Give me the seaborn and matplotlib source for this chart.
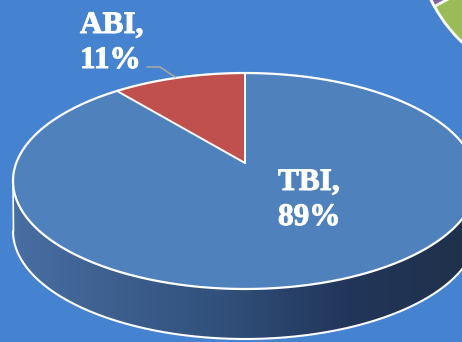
import numpy as np
import matplotlib
matplotlib.use("Agg")
import matplotlib.pyplot as plt
from matplotlib.patches import Polygon, Circle, Wedge
from matplotlib.colors import LinearSegmentedColormap
import matplotlib.patheffects as pe
import seaborn as sns

# ---- data ----
categories = ["ABI", "TBI"]          # counter-clockwise order starting at 12 o'clock
shares = [11, 89]                    # percent
slice_colors = ["#c0504d", "#4f81bd"]

sns.set_theme(style="white")
plt.rcParams["font.family"] = ["Liberation Serif", "DejaVu Serif"]

BG = "#4583d0"
W, H = 462, 342
fig = plt.figure(figsize=(W / 100, H / 100), dpi=100, facecolor=BG)
ax = fig.add_axes([0, 0, 1, 1])
ax.set_xlim(0, W)
ax.set_ylim(H, 0)
ax.set_facecolor(BG)
ax.axis("off")

# geometry of the tilted 3D pie (screen pixels, y down)
cx, cy, a, b = 245.0, 181.0, 232.0, 108.0
ax0, ay0 = 245.0, 163.0          # projected pie centre
depth = 50.0


def ell(t, dy=0.0):
    t = np.asarray(t)
    return cx + a * np.cos(t), cy - b * np.sin(t) + dy


def edge_t(theta):
    """parametric angle of the rim point in visual direction theta from apex"""
    dx, dy = a * np.cos(theta), -b * np.sin(theta)
    ox, oy = ax0 - cx, ay0 - cy
    A = (dx / a) ** 2 + (dy / b) ** 2
    B = 2 * (ox * dx / a ** 2 + oy * dy / b ** 2)
    C = (ox / a) ** 2 + (oy / b) ** 2 - 1
    s = (-B + np.sqrt(B * B - 4 * A * C)) / (2 * A)
    x, y = ax0 + s * dx, ay0 + s * dy
    return np.arctan2(-(y - cy) / b, (x - cx) / a)


# neighbouring chart fragment (top-right corner)
ax.add_patch(Circle((560, -62), 143, facecolor="#9bbb59", edgecolor="white", lw=2, zorder=1))
ax.add_patch(Wedge((560, -62), 143, 151.4, 215, facecolor="#8064a2", edgecolor="white", lw=2, zorder=2))

# side (front half) with gradient
ts = np.linspace(np.pi, 2 * np.pi, 200)
xt, yt = ell(ts)
xb, yb = ell(ts[::-1], depth)
side = np.column_stack([np.r_[xt, xb], np.r_[yt, yb]])
side_poly = Polygon(side, closed=True, facecolor="none", edgecolor="none")
ax.add_patch(side_poly)
cmap = LinearSegmentedColormap.from_list(
    "side", [(0.0, "#486ea2"), (0.45, "#31507b"), (0.72, "#22365a"), (1.0, "#1f3049")])
grad = np.linspace(0, 1, 256).reshape(1, -1)
im = ax.imshow(grad, cmap=cmap, extent=[cx - a, cx + a, cy + depth + b + 2, cy - 2],
               aspect="auto", zorder=3, interpolation="bilinear")
im.set_clip_path(side_poly)
ax.plot(xb, yb, color="white", lw=1.5, zorder=4)
ax.plot([cx - a, cx - a + 0.5], [cy, cy + depth], color="white", lw=1.2, zorder=4)

# top face slices
start = np.pi / 2
bounds = [start]
for v in shares:
    bounds.append(bounds[-1] + 2 * np.pi * v / sum(shares))
for i, (cat, col) in enumerate(zip(categories, slice_colors)):
    t1, t2 = edge_t(bounds[i]), edge_t(bounds[i + 1])
    if t2 <= t1:
        t2 += 2 * np.pi
    tt = np.linspace(t1, t2, 300)
    px, py = ell(tt)
    poly = np.column_stack([np.r_[ax0, px, ax0], np.r_[ay0, py, ay0]])
    ax.add_patch(Polygon(poly, closed=True, facecolor=col, edgecolor="none", zorder=5))

# outlines
tt = np.linspace(0, 2 * np.pi, 400)
ex, ey = ell(tt)
ax.plot(ex, ey, color="white", lw=1.6, zorder=6)
for bd in bounds[:-1]:
    t = edge_t(bd)
    px, py = ell(t)
    ax.plot([ax0, px], [ay0, py], color="white", lw=1.4, zorder=6)

# labels
tkw = dict(color="white", fontsize=22.5, fontweight="bold", zorder=8,
           ha="left", va="baseline",
           path_effects=[pe.withStroke(linewidth=0.7, foreground="white")])
label_pos = {"ABI": (80, 33), "TBI": (278, 190)}
for cat, v in zip(categories, shares):
    x, y = label_pos[cat]
    ax.text(x, y, f"{cat},", **tkw)
    ax.text(x, y + 35, f"{v}%", **tkw)

# leader line for ABI
ax.plot([147, 160, 175], [67, 67, 77], color="#a6a6a6", lw=1.2, zorder=7)

fig.savefig("out.png", dpi=100, facecolor=BG)
